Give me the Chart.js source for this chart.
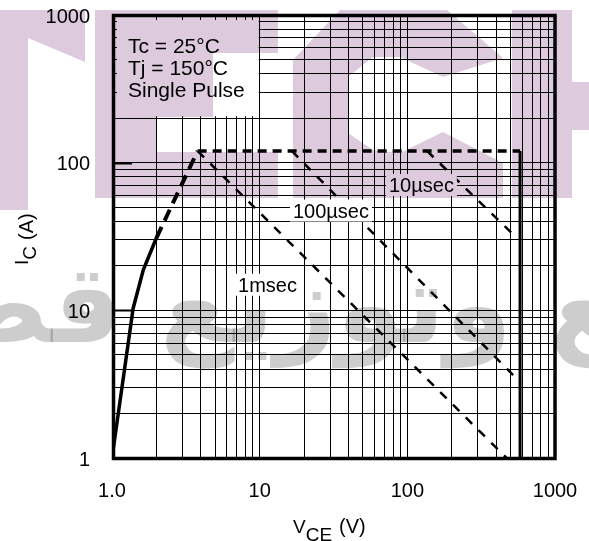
<!DOCTYPE html>
<html>
<head>
<meta charset="utf-8">
<title>Safe Operating Area</title>
<script src="https://cdn.jsdelivr.net/npm/chart.js@4.4.1/dist/chart.umd.min.js"></script>
<style>
    html, body { margin: 0; padding: 0; background: #fff; }
    canvas { display: block; }
</style>
</head>
<body>
<canvas id="grafico_soa" width="589" height="541"></canvas>
<script>
// ticks con etiqueta
let x_ticks = [1, 10, 100, 1000]
let x_tick_labels = ['1.0', '10', '100', '1000']
let y_ticks = [1, 10, 100, 1000]
let y_tick_labels = ['1', '10', '100', '1000']

// curva DC (solida) y subida discontinua hasta el codo
let dc_v = [1, 1.39, 1.63, 2.0]
let dc_i = [1, 10.3, 18.8, 31]
let rise_v = [2.0, 3.8]
let rise_i = [31, 120]

// limite de corriente y limite de tension
let limit_v = [3.8, 580]
let limit_i = [120, 120]
let vmax_v = [580, 580]
let vmax_i = [120, 1]

// pulsos
let us10_v = [136, 552]
let us10_i = [120, 30.9]
let us100_v = [16.5, 578]
let us100_i = [120, 3.28]
let ms1_v = [3.8, 470]
let ms1_i = [120, 1]

let pulse_labels = ['10µsec', '100µsec', '1msec']
let pulse_label_v = [124.6, 30.4, 11.3]
let pulse_label_i = [70.5, 47.4, 14.9]

let note_lines = ['Tc = 25°C', 'Tj = 150°C', 'Single Pulse']

let fuente = '"Liberation Sans", Arial, sans-serif'


// lineas de la rejilla log: 1..9 por decada
function grid_values(){
    let valores = []
    for (let d = 1; d < 1000; d *= 10) {
        for (let k = 1; k < 10; k++) {
            valores.push(k * d)
        }
    }
    valores.push(1000)
    return valores
}

function etiqueta(valor, ticks, labels){
    let idx = ticks.indexOf(valor)
    return idx >= 0 ? labels[idx] : ''
}

function serie(xs, ys, ancho, guiones){
    return {
        data: xs.map((v, i) => ({x: v, y: ys[i]})),
        showLine: true,
        borderColor: '#000',
        borderWidth: ancho,
        borderDash: guiones,
        pointRadius: 0,
        fill: false,
        tension: 0
    }
}

// sin relleno extra por etiquetas en los bordes
function sin_padding(escala){
    escala.paddingLeft = 0
    escala.paddingRight = 0
    escala.paddingTop = 0
    escala.paddingBottom = 0
}


/*
    ||=====================================================
    || MARCA DE AGUA
    ||=====================================================
*/
let marca_letras = [
    [[0,10],[85,10],[85,62],[28,38],[28,210],[0,210]],
    [[95,10],[278,10],[278,53],[213,53],[213,117],[157,117],[157,152],[278,152],[278,198],[95,198]],
    [[340,10],[447,10],[503,58],[443,77],[400,57],[373,57],[348,77],[348,133],[373,150],[400,153],
     [443,132],[503,163],[503,198],[293,198],[293,60]],
    [[512,10],[572,10],[572,82],[589,82],[589,130],[572,130],[572,198],[512,198]]
]

function marca_agua(ctx){
    ctx.save()
    ctx.globalCompositeOperation = 'multiply'
    ctx.fillStyle = '#ddcbdd'
    marca_letras.forEach(poly => {
        ctx.beginPath()
        poly.forEach((p, i) => i ? ctx.lineTo(p[0], p[1]) : ctx.moveTo(p[0], p[1]))
        ctx.closePath()
        ctx.fill()
    })
    ctx.fillStyle = '#cdcdcd'
    ctx.font = 'bold 108px "DejaVu Sans"'
    ctx.direction = 'rtl'
    ctx.textAlign = 'right'
    ctx.textBaseline = 'alphabetic'
    ctx.fillText('بيع وتوزيع قطع', 708, 342)
    ctx.restore()
}


const decor = {
    id: 'decor',
    beforeDraw(chart){
        let ctx = chart.ctx
        ctx.save()
        ctx.fillStyle = '#fff'
        ctx.fillRect(0, 0, chart.width, chart.height)
        ctx.restore()
    },
    afterDatasetsDraw(chart){
        let ctx = chart.ctx
        let a = chart.chartArea
        let x = chart.scales.x
        let y = chart.scales.y
        ctx.save()
        // caja de condiciones
        let bx0 = a.left + 5
        let by0 = a.top + 5
        let bx1 = x.getPixelForValue(10) - 1
        let by1 = y.getPixelForValue(200) - 2
        ctx.fillStyle = '#fff'
        ctx.fillRect(bx0, by0, bx1 - bx0, by1 - by0)
        ctx.fillStyle = '#000'
        ctx.font = '21px ' + fuente
        ctx.textAlign = 'left'
        ctx.textBaseline = 'alphabetic'
        note_lines.forEach((t, i) => ctx.fillText(t, a.left + 16, a.top + 38 + 22 * i))
        // etiquetas de pulso
        ctx.font = '20px ' + fuente
        ctx.textAlign = 'center'
        pulse_labels.forEach((t, i) => {
            let px = x.getPixelForValue(pulse_label_v[i])
            let py = y.getPixelForValue(pulse_label_i[i])
            let w = ctx.measureText(t).width + 6
            ctx.fillStyle = '#fff'
            ctx.fillRect(px - w / 2, py - 11, w, 22)
            ctx.fillStyle = '#000'
            ctx.fillText(t, px, py + 7)
        })
        // marcas cortas en 10 y 100
        ctx.strokeStyle = '#000'
        ctx.lineWidth = 2
        ;[10, 100].forEach(v => {
            let py = Math.round(y.getPixelForValue(v)) + 0.5
            ctx.beginPath()
            ctx.moveTo(a.left, py)
            ctx.lineTo(a.left + 20, py)
            ctx.stroke()
        })
        ctx.restore()
    },
    afterDraw(chart){
        let ctx = chart.ctx
        let a = chart.chartArea
        ctx.save()
        // marco
        ctx.strokeStyle = '#000'
        ctx.lineWidth = 3.5
        ctx.strokeRect(a.left + 1.5, a.top + 0.5, a.width - 1.5, a.height)
        // titulos de ejes
        ctx.fillStyle = '#000'
        ctx.textAlign = 'left'
        ctx.textBaseline = 'alphabetic'
        ctx.font = '19px ' + fuente
        ctx.fillText('V', 293, 533)
        let wv = ctx.measureText('V').width
        ctx.fillText('CE', 293 + wv, 541)
        let wce = ctx.measureText('CE').width
        ctx.font = '20px ' + fuente
        ctx.fillText('(V)', 293 + wv + wce + 7, 533)

        ctx.translate(28, 265)
        ctx.rotate(-Math.PI / 2)
        ctx.font = '19px ' + fuente
        ctx.fillText('I', 0, 0)
        let wi = ctx.measureText('I').width
        ctx.fillText('C', wi, 8)
        ctx.font = '20px ' + fuente
        ctx.fillText('(A)', 25, 4.5)
        ctx.restore()

        marca_agua(ctx)
    }
}


function eje(ticks, labels, extra){
    let base = {
        type: 'logarithmic',
        min: 1,
        max: 1000,
        afterBuildTicks: escala => { escala.ticks = grid_values().map(v => ({value: v})) },
        grid: { color: '#000', lineWidth: 1, drawTicks: false },
        border: { display: false },
        ticks: {
            autoSkip: false,
            maxRotation: 0,
            color: '#000',
            font: { family: fuente, size: 20 },
            callback: v => etiqueta(v, ticks, labels)
        }
    }
    Object.assign(base.ticks, extra.ticks)
    delete extra.ticks
    return Object.assign(base, extra)
}


var configuracion = {
    type: 'scatter',
    data: {
        datasets: [
            serie(dc_v, dc_i, 3.5, []),
            serie(rise_v, rise_i, 4, [12, 7]),
            serie(limit_v, limit_i, 3.5, [9, 6]),
            serie(vmax_v, vmax_i, 3, []),
            serie(us10_v, us10_i, 2.5, [9, 9]),
            serie(us100_v, us100_i, 2.5, [9, 9]),
            serie(ms1_v, ms1_i, 2.5, [9, 9]),
        ]
    },
    options: {
        responsive: false,
        animation: false,
        devicePixelRatio: 1,
        layout: { padding: { top: 15, right: 34, left: 0, bottom: 0 } },
        plugins: {
            legend: { display: false },
            tooltip: { enabled: false }
        },
        scales: {
            x: eje(x_ticks, x_tick_labels, {
                position: 'bottom',
                afterFit: escala => { escala.height = 83; sin_padding(escala) },
                ticks: { padding: 21 }
            }),
            y: eje(y_ticks, y_tick_labels, {
                position: 'left',
                afterFit: escala => { escala.width = 112; sin_padding(escala) },
                ticks: { padding: 22, labelOffset: 2 }
            })
        }
    },
    plugins: [decor]
}

var ctx = document.getElementById('grafico_soa').getContext('2d')
var grafico_soa = new Chart(ctx, configuracion)
</script>
</body>
</html>
